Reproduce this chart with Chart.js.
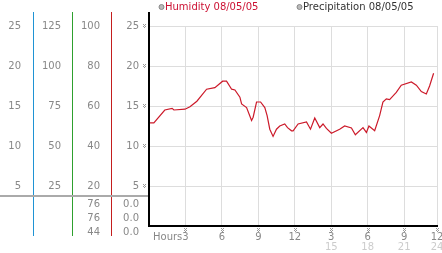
<!DOCTYPE html>
<html>
<head>
<meta charset="utf-8">
<script src="https://cdn.jsdelivr.net/npm/chart.js@4"></script>
<style>
  body { margin: 0; background: #fff; }
</style>
</head>
<body>
<canvas id="humidite" width="442" height="253"></canvas>
<script>
// Humidity for 08/05/05, hours since midnight
const hours = [0.0, 0.4, 1.3, 1.9, 2.05, 2.96, 3.37, 3.94, 4.74, 5.42, 6.06, 6.38, 6.8, 7.07, 7.48, 7.62,
  8.03, 8.44, 8.57, 8.85, 9.18, 9.53, 9.72, 9.94, 10.21, 10.49, 10.76, 11.17, 11.4, 11.73, 11.86,
  12.27, 12.96, 13.29, 13.64, 14.05, 14.32, 14.6, 15.01, 15.69, 16.1, 16.66, 16.98, 17.61, 17.89,
  18.1, 18.57, 18.98, 19.25, 19.53, 19.8, 20.35, 20.76, 21.59, 22.0, 22.41, 22.82, 23.09, 23.42];
const humidity = [12.9, 12.9, 14.5, 14.7, 14.5, 14.6, 14.9, 15.6, 17.1, 17.3, 18.1, 18.1, 17.1, 17.0, 16.1, 15.25,
  14.8, 13.2, 13.6, 15.5, 15.5, 14.8, 13.8, 12.1, 11.2, 12.1, 12.5, 12.75, 12.3, 11.9, 11.9,
  12.75, 13.0, 12.1, 13.5, 12.3, 12.75, 12.2, 11.6, 12.1, 12.5, 12.25, 11.4, 12.3, 11.7,
  12.5, 11.9, 13.8, 15.5, 15.9, 15.8, 16.7, 17.6, 18.0, 17.6, 16.8, 16.5, 17.5, 19.1];

// colonnes d'axes à gauche
const colA = [5, 10, 15, 20, 25];
const colB = [25, 50, 75, 100, 125];
const colC = [20, 40, 60, 80, 100];
const colD = [5, 10, 15, 20, 25];
const tableC = ["76", "76", "44"];
const tableD = ["0.0", "0.0", "0.0"];

const hourTicks = [3, 6, 9, 12, 15, 18, 21, 24];
const hourLabels = ["3", "6", "9", "12", "3", "6", "9", "12"];
const hour24Ticks = [15, 18, 21, 24];
const hour24Labels = ["15", "18", "21", "24"];
const legendNames = ["Humidity 08/05/05", "Precipitation 08/05/05"];

const FONT = { family: "DejaVu Sans", size: 10 };
const GREY = "#888";
const xMax = 23.7;

function leftAxis(min, max, vals, width, weight, pad) {
  return {
    position: "left",
    min: min,
    max: max,
    weight: weight,
    afterBuildTicks: (s) => { s.ticks = vals.map((v) => ({ value: v })); },
    afterFit: (s) => { s.width = width; s.paddingTop = 0; s.paddingBottom = 0; },
    grid: { drawOnChartArea: false, drawTicks: false },
    border: { display: false },
    ticks: { color: GREY, font: FONT, padding: pad },
  };
}

// petit motif "※" des graduations
function mark(ctx, x, y) {
  ctx.fillStyle = "#999";
  [[0, 0], [2, 0], [1, 1], [0, 2], [2, 2], [1, 3]].forEach(([dx, dy]) => ctx.fillRect(x + dx, y + dy, 1, 1));
}

const decor = {
  id: "decor",
  afterDraw(chart) {
    const { ctx, chartArea, scales } = chart;
    const top = 12;
    ctx.save();
    [["a1", "#1f93d4"], ["a2", "#2ea02e"], ["a3", "#c41e1e"]].forEach(([id, c]) => {
      ctx.fillStyle = c;
      ctx.fillRect(Math.round(scales[id].right), top, 1, chartArea.bottom + 10 - top);
    });
    ctx.fillStyle = "#aaa";
    ctx.fillRect(0, chartArea.bottom - 31, chartArea.left - 1, 2);
    ctx.fillStyle = "#000";
    ctx.fillRect(chartArea.left - 1, top, 2, chartArea.bottom - top);

    ctx.font = "10px 'DejaVu Sans'";
    ctx.textBaseline = "middle";
    ctx.textAlign = "right";
    ctx.fillStyle = GREY;
    tableC.forEach((t, i) => ctx.fillText(t, scales.a3.right - 11, chartArea.bottom - 22 + i * 14));
    tableD.forEach((t, i) => ctx.fillText(t, scales.y.right - 10, chartArea.bottom - 22 + i * 14));
    ctx.textAlign = "left";
    ctx.fillText("Hours", chartArea.left + 4, chartArea.bottom + 11);

    colD.forEach((v) => mark(ctx, chartArea.left - 6, Math.round(scales.y.getPixelForValue(v)) - 2));
    scales.x.ticks.forEach((t) => mark(ctx, Math.round(scales.x.getPixelForValue(t.value)) - 1, chartArea.bottom + 2));

    // légende
    const lx = [chartArea.left + 12.5, chartArea.left + 150.5];
    const lc = ["#cc1133", "#333"];
    legendNames.forEach((n, i) => {
      ctx.beginPath();
      ctx.arc(lx[i], 7, 2.5, 0, Math.PI * 2);
      ctx.fillStyle = "#bbb";
      ctx.fill();
      ctx.strokeStyle = "#888";
      ctx.lineWidth = 1;
      ctx.stroke();
      ctx.fillStyle = lc[i];
      ctx.fillText(n, lx[i] + 3.5, 7);
    });
    ctx.restore();
  },
};

new Chart(document.getElementById("humidite"), {
  type: "line",
  data: {
    datasets: [
      {
        label: legendNames[0],
        data: hours.map((h, i) => ({ x: h, y: humidity[i] })),
        borderColor: "#cc1a2a",
        borderWidth: 1.2,
        pointRadius: 0,
        tension: 0,
        yAxisID: "y",
      },
    ],
  },
  options: {
    responsive: false,
    animation: false,
    devicePixelRatio: 1,
    layout: { padding: { top: 26, right: 5, left: 0, bottom: 0 } },
    plugins: { legend: { display: false }, tooltip: { enabled: false } },
    scales: {
      x: {
        type: "linear",
        min: 0,
        max: xMax,
        afterBuildTicks: (s) => { s.ticks = hourTicks.map((v) => ({ value: Math.min(v, xMax) })); },
        afterFit: (s) => { s.height = 14; s.paddingLeft = 0; s.paddingRight = 0; },
        grid: { color: "#ddd", drawTicks: false },
        border: { color: "#000", width: 2 },
        ticks: {
          color: GREY, font: FONT, padding: 5, maxRotation: 0,
          callback: (v, i) => hourLabels[i],
        },
      },
      x2: {
        type: "linear",
        position: "bottom",
        min: 0,
        max: xMax,
        afterBuildTicks: (s) => { s.ticks = hour24Ticks.map((v) => ({ value: Math.min(v, xMax) })); },
        afterFit: (s) => { s.height = 13; s.paddingLeft = 0; s.paddingRight = 0; },
        grid: { display: false, drawTicks: false },
        border: { display: false },
        ticks: {
          color: "#ccc", font: FONT, padding: 1, maxRotation: 0,
          callback: (v, i) => hour24Labels[i],
        },
      },
      a1: leftAxis(0, 25, colA, 33, 4, 12),
      a2: leftAxis(0, 125, colB, 39, 3, 11),
      a3: leftAxis(0, 100, colC, 39, 2, 11),
      y: Object.assign(leftAxis(0, 25, colD, 38, 1, 10), {
        grid: { color: "#ddd", drawTicks: false },
      }),
    },
  },
  plugins: [decor],
});
</script>
</body>
</html>
